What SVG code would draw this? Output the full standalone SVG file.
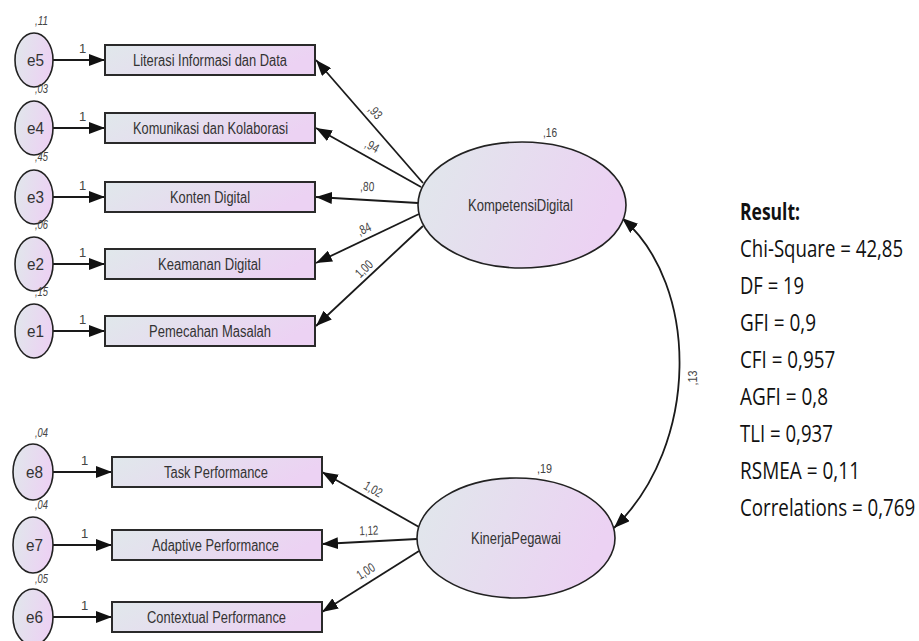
<svg xmlns="http://www.w3.org/2000/svg" width="919" height="641" viewBox="0 0 919 641">
<defs>
  <linearGradient id="g" x1="0" y1="0" x2="1" y2="0.25">
    <stop offset="0" stop-color="#e0e8eb"/>
    <stop offset="1" stop-color="#ecd2f3"/>
  </linearGradient>
  <marker id="ah" markerUnits="userSpaceOnUse" markerWidth="17" markerHeight="12" refX="16" refY="6" orient="auto-start-reverse">
    <path d="M0,0 L16,6 L0,12 z" fill="#111"/>
  </marker>
</defs>
<style>
  .box{fill:url(#g);stroke:#2a2a2a;stroke-width:2}
  .ell{fill:url(#g);stroke:#222;stroke-width:1.6}
  .t{font-family:"Liberation Sans",Arial,sans-serif;font-size:16px;fill:#333}
  .s{font-family:"Liberation Sans",Arial,sans-serif;font-size:13px;fill:#444}
  .v{font-family:"Liberation Sans",Arial,sans-serif;font-size:12px;font-style:italic;fill:#444}
  .c line,.c path{stroke:#1a1a1a;stroke-width:1.8;fill:none;marker-end:url(#ah)}
  .r{font-family:"Open Sans","Noto Sans",sans-serif;font-size:23px;fill:#111}
</style>

<g class="c" id="connectors">
  <line x1="53" y1="60" x2="105" y2="60"/>
  <line x1="53" y1="128" x2="105" y2="128"/>
  <line x1="53" y1="197" x2="105" y2="197"/>
  <line x1="53" y1="264" x2="105" y2="264"/>
  <line x1="53" y1="331" x2="105" y2="331"/>
  <line x1="53" y1="472" x2="112" y2="472"/>
  <line x1="53" y1="545" x2="112" y2="545"/>
  <line x1="53" y1="617" x2="112" y2="617"/>
  <line x1="423" y1="183" x2="316" y2="60"/>
  <line x1="421" y1="187" x2="316" y2="128"/>
  <line x1="418" y1="203" x2="316" y2="197"/>
  <line x1="419" y1="214" x2="316" y2="263"/>
  <line x1="423" y1="226" x2="316" y2="326"/>
  <line x1="419" y1="527" x2="322" y2="472"/>
  <line x1="417" y1="539" x2="322" y2="544"/>
  <line x1="419" y1="551" x2="322" y2="612"/>
  <path d="M622,218 C700,285 700,445 614,528" style="marker-start:url(#ah)"/>
  <text class="s" transform="translate(697,378) rotate(-90)" text-anchor="middle" textLength="15" lengthAdjust="spacingAndGlyphs">,13</text>
</g>

<g id="e5"><ellipse class="ell" cx="34" cy="60" rx="19" ry="27"/><text class="t" x="27" y="66" textLength="17" lengthAdjust="spacingAndGlyphs">e5</text><text class="v" x="35" y="25" textLength="13" lengthAdjust="spacingAndGlyphs">,11</text><text class="s" x="79" y="53">1</text></g>
<g id="e4"><ellipse class="ell" cx="34" cy="128" rx="19" ry="27"/><text class="t" x="27" y="134" textLength="17" lengthAdjust="spacingAndGlyphs">e4</text><text class="v" x="35" y="93" textLength="13" lengthAdjust="spacingAndGlyphs">,03</text><text class="s" x="79" y="121">1</text></g>
<g id="e3"><ellipse class="ell" cx="34" cy="197" rx="19" ry="27"/><text class="t" x="27" y="203" textLength="17" lengthAdjust="spacingAndGlyphs">e3</text><text class="v" x="35" y="161" textLength="13" lengthAdjust="spacingAndGlyphs">,45</text><text class="s" x="79" y="190">1</text></g>
<g id="e2"><ellipse class="ell" cx="34" cy="264" rx="19" ry="27"/><text class="t" x="27" y="270" textLength="17" lengthAdjust="spacingAndGlyphs">e2</text><text class="v" x="35" y="229" textLength="13" lengthAdjust="spacingAndGlyphs">,06</text><text class="s" x="79" y="257">1</text></g>
<g id="e1"><ellipse class="ell" cx="34" cy="331" rx="19" ry="27"/><text class="t" x="27" y="337" textLength="17" lengthAdjust="spacingAndGlyphs">e1</text><text class="v" x="35" y="296" textLength="13" lengthAdjust="spacingAndGlyphs">,15</text><text class="s" x="79" y="324">1</text></g>
<g id="e8"><ellipse class="ell" cx="33" cy="472" rx="20" ry="28"/><text class="t" x="26" y="478" textLength="17" lengthAdjust="spacingAndGlyphs">e8</text><text class="v" x="35" y="437" textLength="13" lengthAdjust="spacingAndGlyphs">,04</text><text class="s" x="81" y="465">1</text></g>
<g id="e7"><ellipse class="ell" cx="33" cy="545" rx="20" ry="28"/><text class="t" x="26" y="551" textLength="17" lengthAdjust="spacingAndGlyphs">e7</text><text class="v" x="35" y="509" textLength="13" lengthAdjust="spacingAndGlyphs">,04</text><text class="s" x="81" y="538">1</text></g>
<g id="e6"><ellipse class="ell" cx="33" cy="617" rx="20" ry="28"/><text class="t" x="26" y="623" textLength="17" lengthAdjust="spacingAndGlyphs">e6</text><text class="v" x="35" y="583" textLength="13" lengthAdjust="spacingAndGlyphs">,05</text><text class="s" x="81" y="610">1</text></g>

<g id="literasi"><rect class="box" x="105" y="45" width="210" height="30"/><text class="t" x="133" y="66" textLength="154" lengthAdjust="spacingAndGlyphs">Literasi Informasi dan Data</text></g>
<g id="komunikasi"><rect class="box" x="105" y="113" width="210" height="30"/><text class="t" x="133" y="134" textLength="155" lengthAdjust="spacingAndGlyphs">Komunikasi dan Kolaborasi</text></g>
<g id="konten"><rect class="box" x="105" y="182" width="210" height="30"/><text class="t" x="170" y="203" textLength="80" lengthAdjust="spacingAndGlyphs">Konten Digital</text></g>
<g id="keamanan"><rect class="box" x="105" y="249" width="210" height="30"/><text class="t" x="158" y="270" textLength="103" lengthAdjust="spacingAndGlyphs">Keamanan Digital</text></g>
<g id="pemecahan"><rect class="box" x="105" y="316" width="210" height="30"/><text class="t" x="149" y="337" textLength="122" lengthAdjust="spacingAndGlyphs">Pemecahan Masalah</text></g>
<g id="task"><rect class="box" x="112" y="457" width="210" height="30"/><text class="t" x="164" y="478" textLength="104" lengthAdjust="spacingAndGlyphs">Task Performance</text></g>
<g id="adaptive"><rect class="box" x="112" y="530" width="210" height="30"/><text class="t" x="152" y="551" textLength="127" lengthAdjust="spacingAndGlyphs">Adaptive Performance</text></g>
<g id="contextual"><rect class="box" x="112" y="602" width="210" height="30"/><text class="t" x="147" y="623" textLength="139" lengthAdjust="spacingAndGlyphs">Contextual Performance</text></g>

<g id="kompetensi"><ellipse class="ell" cx="522" cy="205" rx="104" ry="63"/><text class="t" x="468" y="211" textLength="105" lengthAdjust="spacingAndGlyphs">KompetensiDigital</text><text class="s" x="543" y="137" textLength="14" lengthAdjust="spacingAndGlyphs">,16</text></g>
<g id="kinerja"><ellipse class="ell" cx="516" cy="538" rx="99" ry="60"/><text class="t" x="471" y="544" textLength="90" lengthAdjust="spacingAndGlyphs">KinerjaPegawai</text><text class="s" x="537" y="473" textLength="15" lengthAdjust="spacingAndGlyphs">,19</text></g>

<g id="loadings">
  <text class="s" transform="translate(372,115) rotate(49)" text-anchor="middle" textLength="14" lengthAdjust="spacingAndGlyphs">,93</text>
  <text class="s" transform="translate(370,150) rotate(28)" text-anchor="middle" textLength="14" lengthAdjust="spacingAndGlyphs">,94</text>
  <text class="s" transform="translate(367,191) rotate(3)" text-anchor="middle" textLength="14" lengthAdjust="spacingAndGlyphs">,80</text>
  <text class="s" transform="translate(366,233) rotate(-26)" text-anchor="middle" textLength="14" lengthAdjust="spacingAndGlyphs">,84</text>
  <text class="s" transform="translate(367,272) rotate(-44)" text-anchor="middle" textLength="19" lengthAdjust="spacingAndGlyphs">1,00</text>
  <text class="s" transform="translate(371,493) rotate(30)" text-anchor="middle" textLength="19" lengthAdjust="spacingAndGlyphs">1,02</text>
  <text class="s" transform="translate(369,535) rotate(-2)" text-anchor="middle" textLength="19" lengthAdjust="spacingAndGlyphs">1,12</text>
  <text class="s" transform="translate(368,575) rotate(-32)" text-anchor="middle" textLength="19" lengthAdjust="spacingAndGlyphs">1,00</text>
</g>

<g id="result" transform="translate(740,0) scale(0.8,1)">
  <text class="r" x="0" y="220" font-weight="bold" textLength="75" lengthAdjust="spacingAndGlyphs">Result:</text>
  <text class="r" x="0" y="257" textLength="204" lengthAdjust="spacingAndGlyphs">Chi-Square = 42,85</text>
  <text class="r" x="0" y="294" textLength="80" lengthAdjust="spacingAndGlyphs">DF = 19</text>
  <text class="r" x="0" y="331" textLength="95" lengthAdjust="spacingAndGlyphs">GFI = 0,9</text>
  <text class="r" x="0" y="368" textLength="119" lengthAdjust="spacingAndGlyphs">CFI = 0,957</text>
  <text class="r" x="0" y="405" textLength="110" lengthAdjust="spacingAndGlyphs">AGFI = 0,8</text>
  <text class="r" x="0" y="442" textLength="116" lengthAdjust="spacingAndGlyphs">TLI = 0,937</text>
  <text class="r" x="0" y="479" textLength="150" lengthAdjust="spacingAndGlyphs">RSMEA = 0,11</text>
  <text class="r" x="0" y="516" textLength="219" lengthAdjust="spacingAndGlyphs">Correlations = 0,769</text>
</g>
</svg>
